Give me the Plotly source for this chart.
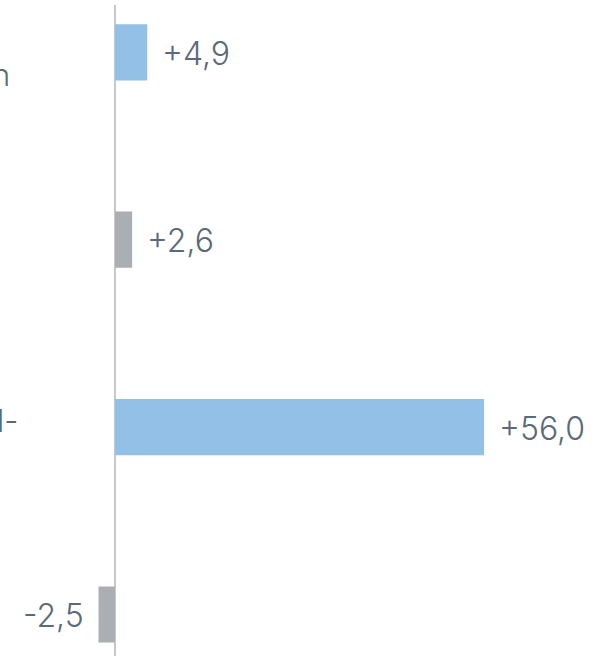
import plotly.graph_objects as go

categories = ["A", "B", "C", "D"]
values = [4.9, 2.6, 56.0, -2.5]
colors = ["#92c0e6", "#abaeb2", "#92c0e6", "#abaeb2"]
label_fragments = ["n", "", "l-", ""]

W, H = 602, 656
TEXT = "#5b6a79"
FONT = "Inter, Helvetica Neue, Helvetica, Liberation Sans, Arial, sans-serif"

pos = list(range(len(categories)))

fig = go.Figure()
fig.add_trace(go.Bar(
    y=pos, x=values, orientation="h",
    marker=dict(color=colors, line=dict(width=0)),
    width=0.30, hoverinfo="skip",
))

ann = []
for i, v in enumerate(values):
    txt = f"{v:+.1f}".replace(".", ",")
    ann.append(dict(
        x=v, y=i, xref="x", yref="y", text=txt, showarrow=False,
        xanchor="left" if v >= 0 else "right",
        xshift=13 if v >= 0 else -13, yshift=-1,
        font=dict(size=32, color=TEXT, family=FONT, weight=300),
    ))

# clipped category-label fragments at the left edge
frag_y = [70, None, 419, None]
frag_x = [12, None, 20, None]
for i, t in enumerate(label_fragments):
    if t:
        ann.append(dict(
            x=frag_x[i] / W, y=1 - frag_y[i] / H, xref="paper", yref="paper",
            text=t, showarrow=False, xanchor="right", yanchor="middle",
            font=dict(size=31, color=TEXT, family=FONT, weight=300),
        ))

fig.update_layout(
    width=W, height=H,
    margin=dict(l=0, r=0, t=5, b=0),
    paper_bgcolor="white", plot_bgcolor="white",
    showlegend=False,
    annotations=ann,
    xaxis=dict(range=[-17.45, 73.9], showgrid=False, showticklabels=False,
               zeroline=True, zerolinecolor="#c8c8c8", zerolinewidth=2,
               fixedrange=True),
    yaxis=dict(range=[3.2215, -0.2524], showgrid=False, showticklabels=False,
               zeroline=False, fixedrange=True),
)

fig.write_html("out.html", config={"displayModeBar": False},
               post_script="document.body.style.margin='0';document.body.style.overflow='hidden';")
